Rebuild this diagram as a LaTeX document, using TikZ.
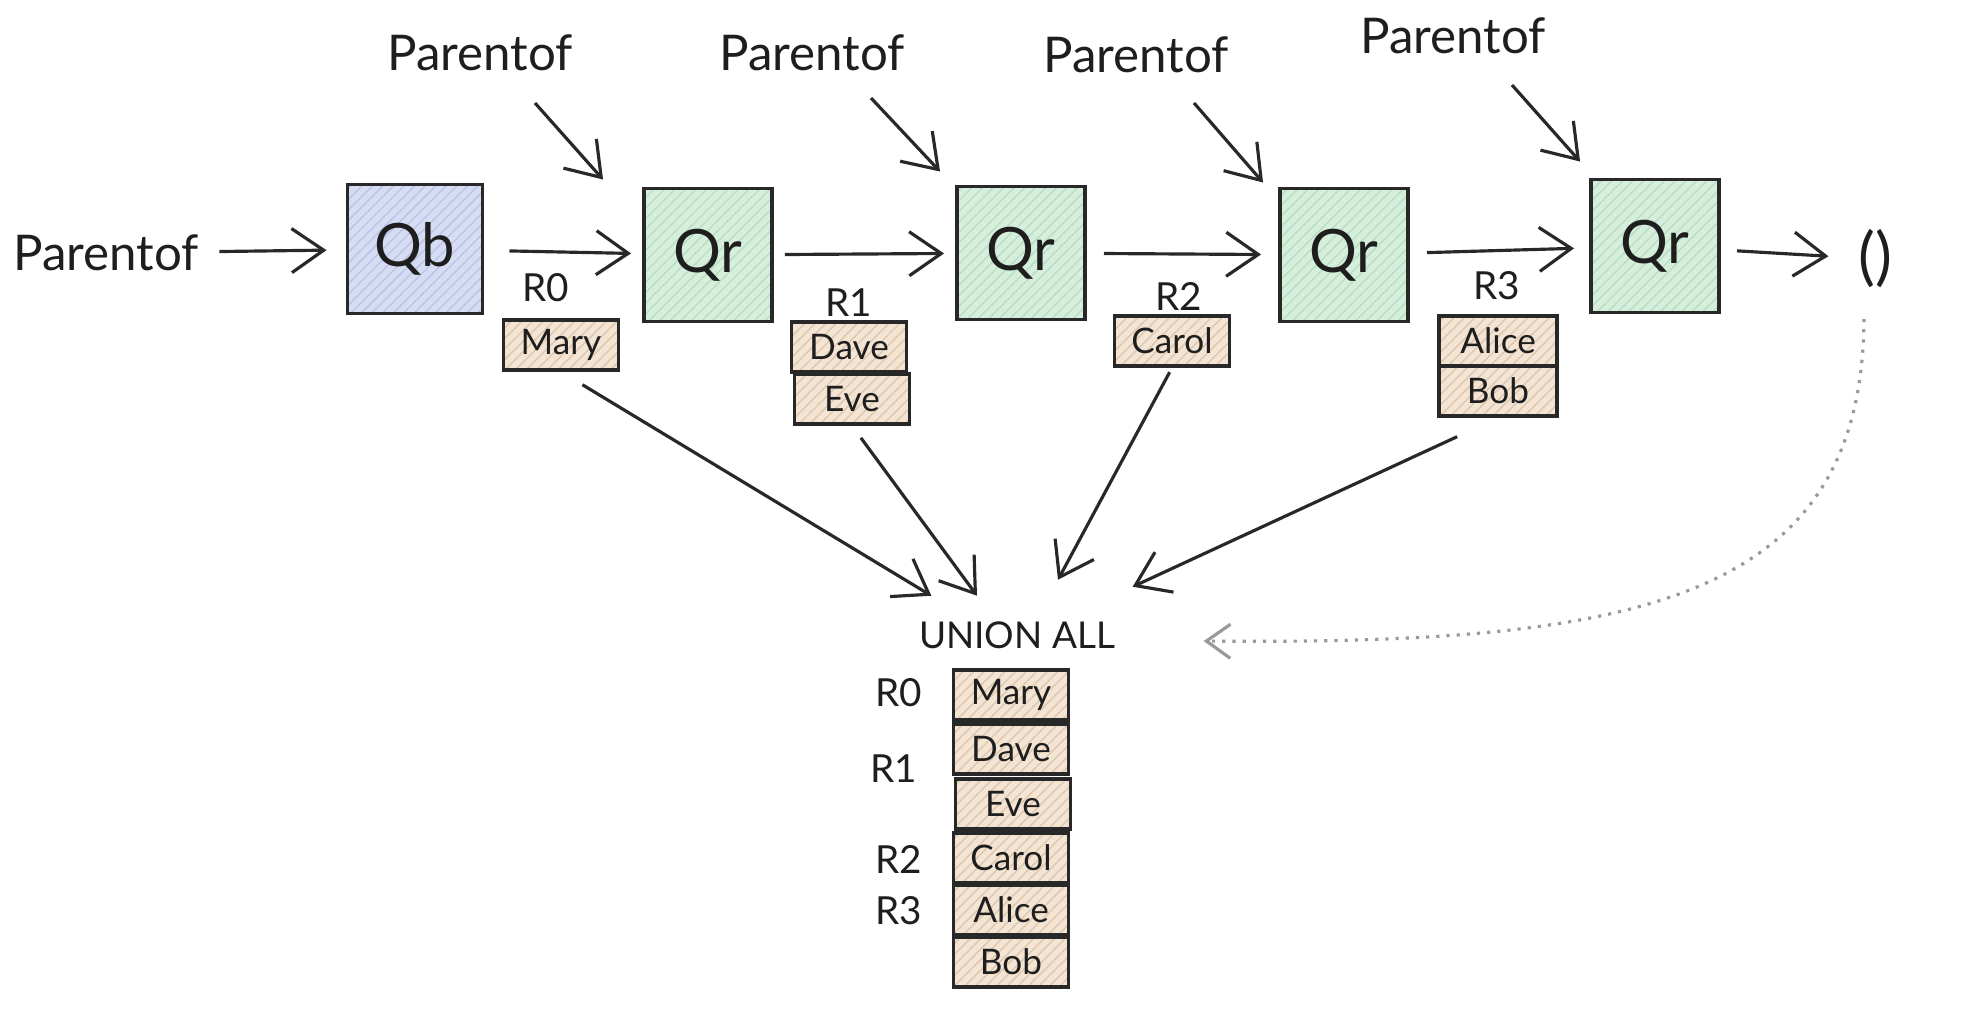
\documentclass[tikz,border=0pt]{standalone}
\usepackage{fontspec}
\setmainfont{Lato}
\usetikzlibrary{arrows.meta,patterns}
\definecolor{edgecol}{RGB}{40,40,40}
\definecolor{inkcol}{RGB}{30,30,30}
\definecolor{qbfill}{RGB}{214,221,243}
\definecolor{qbhatch}{RGB}{186,196,232}
\definecolor{qrfill}{RGB}{214,238,220}
\definecolor{qrhatch}{RGB}{186,222,196}
\definecolor{rowfill}{RGB}{243,228,211}
\definecolor{rowhatch}{RGB}{222,200,176}
\begin{document}
\begin{tikzpicture}[x=0.01cm, y=-0.01cm,
  lbl/.style={inner sep=2pt, text=inkcol, font=\fontsize{14}{16}\selectfont},
  rlbl/.style={inner sep=2pt, text=inkcol, font=\fontsize{11}{13}\selectfont},
  opbox/.style={draw=edgecol, line width=1.1pt, minimum width=1.28cm, minimum height=1.33cm,
    text=inkcol, font=\fontsize{17}{20}\selectfont},
  qbbox/.style={opbox, preaction={fill=qbfill}, pattern=north east lines, pattern color=qbhatch},
  qrbox/.style={opbox, preaction={fill=qrfill}, pattern=north east lines, pattern color=qrhatch},
  rowbox/.style={draw=edgecol, line width=1pt, minimum width=1.15cm, minimum height=0.5cm,
    inner sep=0pt, text=inkcol, font=\fontsize{10}{12}\selectfont,
    preaction={fill=rowfill}, pattern=north east lines, pattern color=rowhatch},
  flow/.style={draw=edgecol, line width=0.9pt, -{Straight Barb[length=3.2mm,width=4.4mm]}},
  dotflow/.style={draw=gray!80, line width=0.9pt, dotted, -{Straight Barb[length=2.4mm,width=3.4mm]}}]
% canvas in pixel units, y pointing down
\useasboundingbox (0,0) rectangle (1964,1012);
% Operators
\node[lbl] (pin) at (106,253) {Parentof};
\node[qbbox, minimum width=1.35cm, minimum height=1.29cm] (qb) at (415,249) {Qb};
\node[qrbox] (qr1) at (708,255) {Qr};
\node[qrbox] (qr2) at (1021,253) {Qr};
\node[qrbox] (qr3) at (1344,255) {Qr};
\node[qrbox] (qr4) at (1655,246) {Qr};
\node[inner sep=2pt, text=inkcol, font=\fontsize{18}{20}\selectfont] (nil) at (1875,259) {()};
% Inputs on top
\node[lbl] (p1) at (480,53) {Parentof};
\node[lbl] (p2) at (812,53) {Parentof};
\node[lbl] (p3) at (1136,55) {Parentof};
\node[lbl] (p4) at (1453,36) {Parentof};
% Intermediate results
\node[rlbl] (r0) at (546,288) {R0};
\node[rowbox] (mary0) at (561,345) {Mary};
\node[rlbl] (r1) at (849,303) {R1};
\node[rowbox] (dave1) at (849,347) {Dave};
\node[rowbox] (eve1) at (852,399) {Eve};
\node[rlbl] (r2) at (1179,296) {R2};
\node[rowbox] (carol2) at (1172,341) {Carol};
\node[rlbl] (r3) at (1497,286) {R3};
\node[rowbox, minimum width=1.18cm] (alice3) at (1498,341) {Alice};
\node[rowbox, minimum width=1.18cm] (bob3) at (1498,391) {Bob};
% Union of all results
\node[inner sep=2pt, text=inkcol, font=\fontsize{10.5}{12}\selectfont] (union) at (1017,635) {UNION ALL};
\node[rowbox] (smary) at (1011,695) {Mary};
\node[rowbox] (sdave) at (1011,749) {Dave};
\node[rowbox] (seve) at (1013,804) {Eve};
\node[rowbox] (scarol) at (1011,858) {Carol};
\node[rowbox] (salice) at (1011,910) {Alice};
\node[rowbox] (sbob) at (1011,962) {Bob};
\node[rlbl] (sr0) at (899,693) {R0};
\node[rlbl] (sr1) at (894,769) {R1};
\node[rlbl] (sr2) at (899,859) {R2};
\node[rlbl] (sr3) at (899,911) {R3};
% Chain
\draw[flow, shorten <=1.3mm, shorten >=1.9mm] (pin) -- (qb);
\draw[flow, shorten <=2.5mm, shorten >=1.1mm] (qb) -- (qr1);
\draw[flow, shorten <=1.1mm, shorten >=1.1mm] (qr1) -- (qr2);
\draw[flow, shorten <=1.7mm, shorten >=1.7mm] (qr2) -- (qr3);
\draw[flow, shorten <=1.7mm, shorten >=1.5mm] (qr3) -- (qr4);
\draw[flow, shorten <=1.6mm, shorten >=2.2mm] (qr4) -- (nil);
% Inputs
\draw[flow] ([shift={(55,50)}]p1.center) -- ([shift={(-39,-7)}]qr1.north west);
\draw[flow] ([shift={(59,45)}]p2.center) -- ([shift={(-15,-13)}]qr2.north west);
\draw[flow] ([shift={(58,48)}]p3.center) -- ([shift={(-15,-4)}]qr3.north west);
\draw[flow] ([shift={(59,49)}]p4.center) -- ([shift={(-9,-16)}]qr4.north west);
% Results into the union
\draw[flow, shorten <=2.5mm] (mary0.south) -- ([shift={(20,-18)}]union.north west);
\draw[flow, shorten <=1.5mm] (eve1.south) -- ([shift={(-40,-18)}]union.north);
\draw[flow, shorten <=0.5mm] (carol2.south) -- ([shift={(41,-34)}]union.north);
\draw[flow, shorten <=4.5mm] (bob3.south) -- ([shift={(10,-27)}]union.north east);
% Empty result ends the recursion
\draw[dotflow] ([shift={(-11,60)}]nil.center) .. controls (1862,600) and (1640,645) .. ([shift={(81,6)}]union.east);
\end{tikzpicture}
\end{document}
